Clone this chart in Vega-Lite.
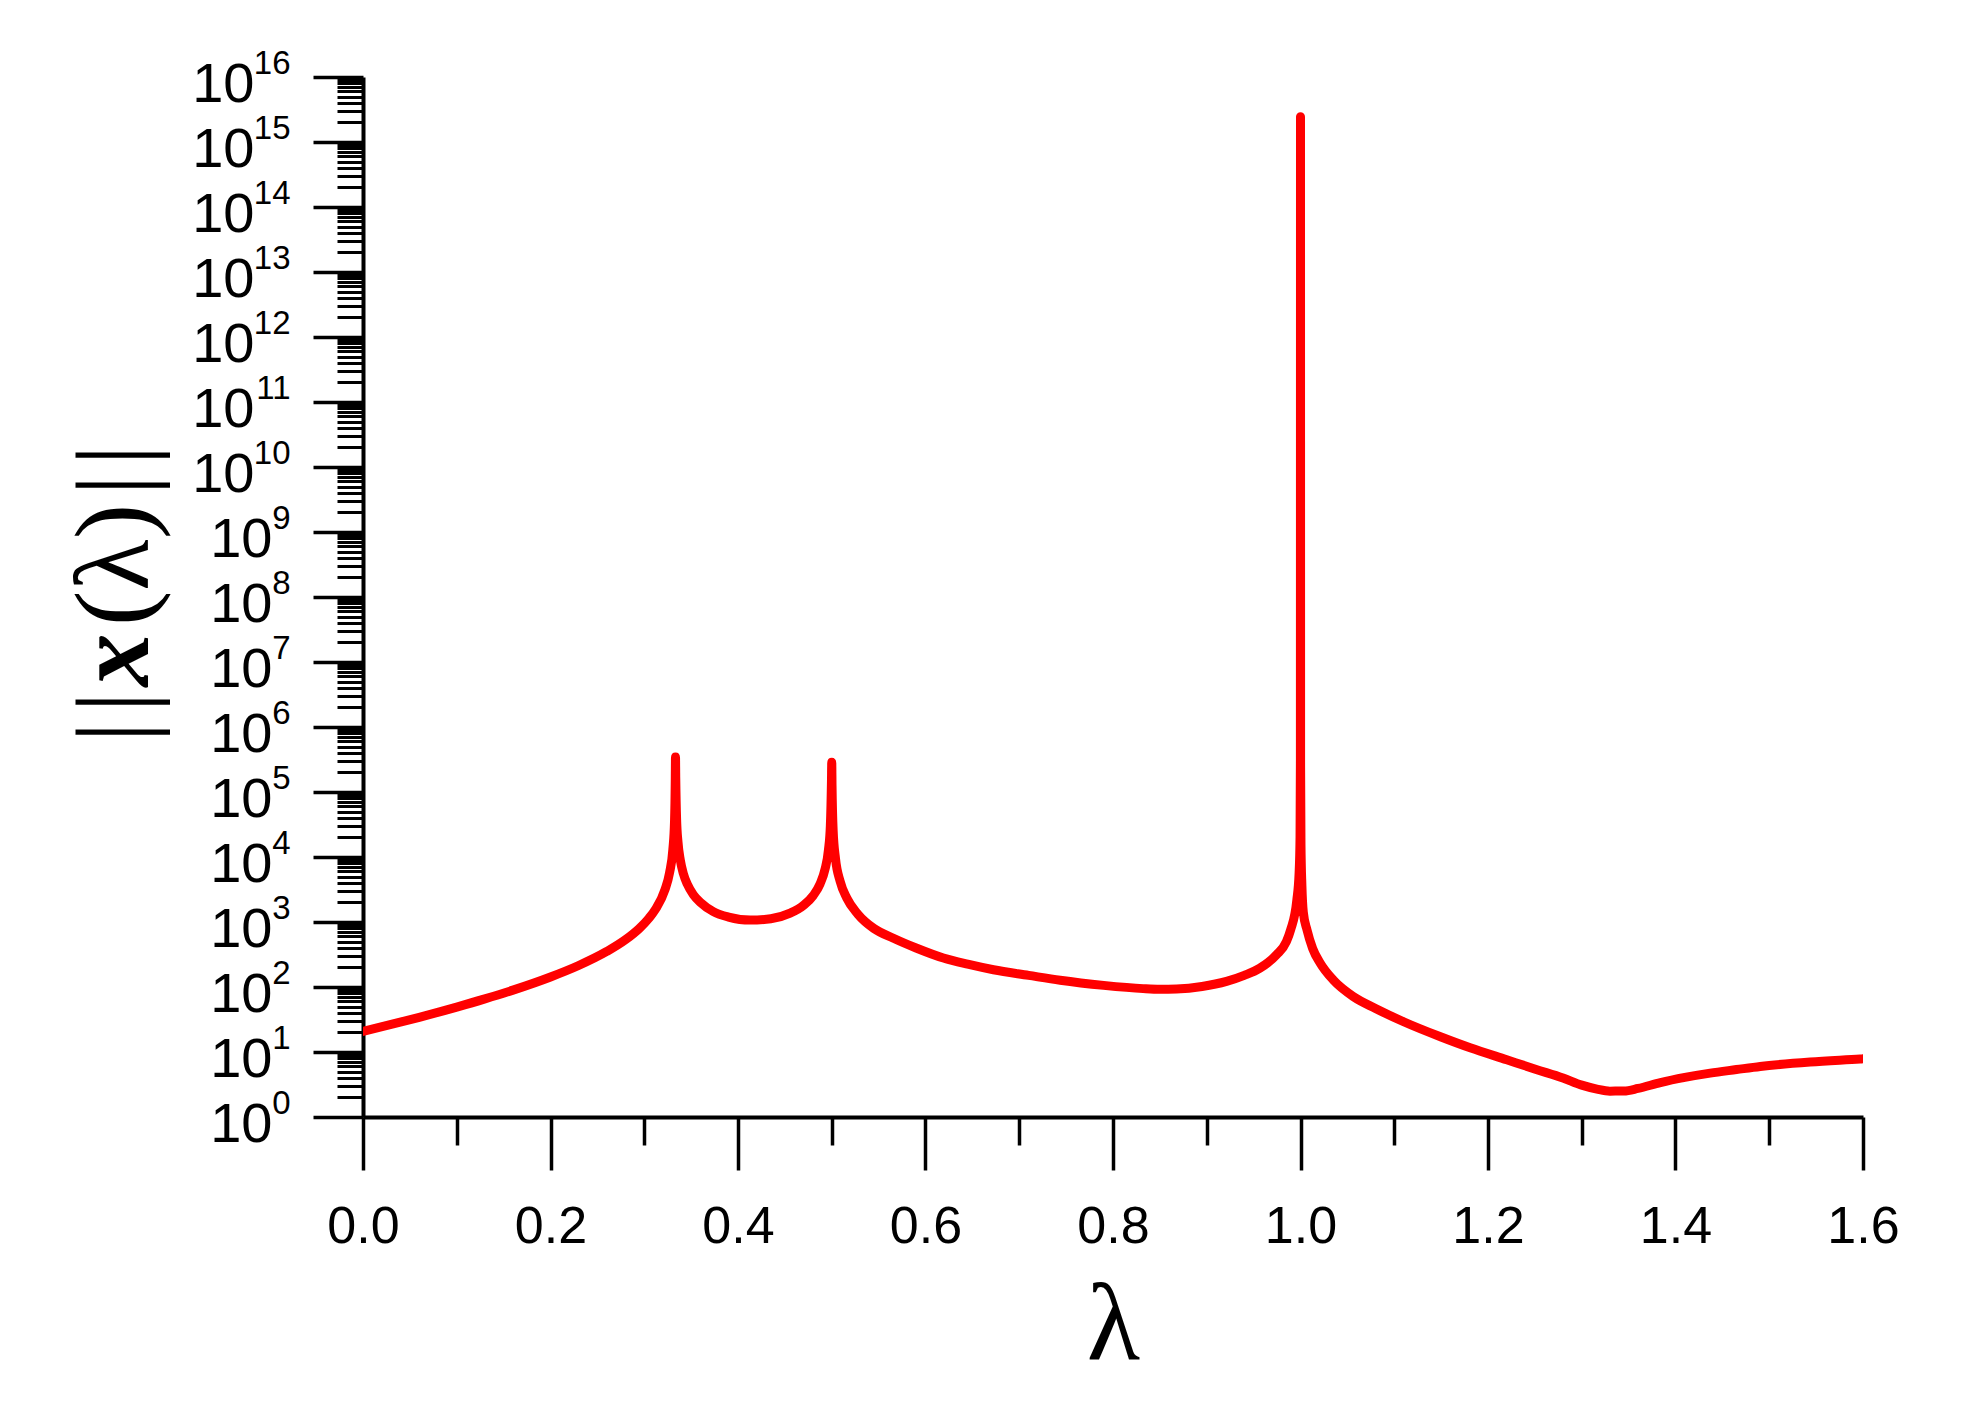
{
  "$schema": "https://vega.github.io/schema/vega-lite/v6.json",
  "width": 1500,
  "height": 1040,
  "autosize": {"type": "none"},
  "padding": {"left": 363, "top": 77, "right": 110, "bottom": 302},
  "background": "white",
  "config": {
    "view": {"stroke": null},
    "axis": {"grid": false, "domainColor": "black", "tickColor": "black", "labelColor": "black", "labelFont": "Liberation Sans", "labelOverlap": false, "labelFlush": false, "labelBound": false}
  },
  "datasets": {
    "curve": [
      {"lambda": 0, "norm": 20.7}, {"lambda": 0.03, "norm": 26.5}, {"lambda": 0.06, "norm": 34.2}, {"lambda": 0.1, "norm": 49.1},
      {"lambda": 0.13, "norm": 65.6}, {"lambda": 0.16, "norm": 89.5}, {"lambda": 0.2, "norm": 142.6}, {"lambda": 0.23, "norm": 214},
      {"lambda": 0.26, "norm": 352}, {"lambda": 0.28, "norm": 535}, {"lambda": 0.295, "norm": 804}, {"lambda": 0.305, "norm": 1143},
      {"lambda": 0.312, "norm": 1570}, {"lambda": 0.322, "norm": 3112}, {"lambda": 0.327, "norm": 5715}, {"lambda": 0.3305, "norm": 13000},
      {"lambda": 0.3323, "norm": 35700}, {"lambda": 0.3331, "norm": 160000}, {"lambda": 0.33333, "norm": 347000}, {"lambda": 0.3336, "norm": 165000},
      {"lambda": 0.3345, "norm": 38300}, {"lambda": 0.336, "norm": 16900}, {"lambda": 0.3385, "norm": 8900}, {"lambda": 0.3418, "norm": 5500},
      {"lambda": 0.346, "norm": 3800}, {"lambda": 0.3524, "norm": 2630}, {"lambda": 0.36, "norm": 1995}, {"lambda": 0.3737, "norm": 1445},
      {"lambda": 0.39, "norm": 1191}, {"lambda": 0.413, "norm": 1069}, {"lambda": 0.435, "norm": 1122}, {"lambda": 0.4556, "norm": 1368},
      {"lambda": 0.47, "norm": 1807}, {"lambda": 0.4804, "norm": 2570}, {"lambda": 0.4875, "norm": 3846}, {"lambda": 0.4928, "norm": 6460},
      {"lambda": 0.4965, "norm": 12900}, {"lambda": 0.4985, "norm": 30000}, {"lambda": 0.4997, "norm": 150000}, {"lambda": 0.5, "norm": 288000},
      {"lambda": 0.5003, "norm": 127000}, {"lambda": 0.5015, "norm": 25300}, {"lambda": 0.504, "norm": 9460}, {"lambda": 0.5089, "norm": 4250},
      {"lambda": 0.516, "norm": 2340}, {"lambda": 0.528, "norm": 1315}, {"lambda": 0.545, "norm": 794}, {"lambda": 0.5658, "norm": 562},
      {"lambda": 0.59, "norm": 398}, {"lambda": 0.6191, "norm": 279}, {"lambda": 0.645, "norm": 224}, {"lambda": 0.6725, "norm": 184},
      {"lambda": 0.71, "norm": 151}, {"lambda": 0.7436, "norm": 127}, {"lambda": 0.79, "norm": 106}, {"lambda": 0.8322, "norm": 94.4},
      {"lambda": 0.85, "norm": 92.3}, {"lambda": 0.8678, "norm": 93.3}, {"lambda": 0.895, "norm": 102}, {"lambda": 0.9211, "norm": 122},
      {"lambda": 0.94, "norm": 151}, {"lambda": 0.9567, "norm": 195}, {"lambda": 0.9744, "norm": 313}, {"lambda": 0.985, "norm": 501},
      {"lambda": 0.9895, "norm": 759}, {"lambda": 0.9961, "norm": 2190}, {"lambda": 0.9985, "norm": 5620}, {"lambda": 0.9995, "norm": 20000},
      {"lambda": 0.9999, "norm": 316000}, {"lambda": 1.0, "norm": 2.45e15}, {"lambda": 1.0001, "norm": 251000}, {"lambda": 1.0005, "norm": 15800},
      {"lambda": 1.0015, "norm": 3600}, {"lambda": 1.003, "norm": 1410}, {"lambda": 1.0069, "norm": 759}, {"lambda": 1.013, "norm": 390},
      {"lambda": 1.0211, "norm": 232}, {"lambda": 1.035, "norm": 128}, {"lambda": 1.0566, "norm": 70.8}, {"lambda": 1.08, "norm": 46.8},
      {"lambda": 1.11, "norm": 29.2}, {"lambda": 1.15, "norm": 17.0}, {"lambda": 1.181, "norm": 11.6}, {"lambda": 1.22, "norm": 7.59},
      {"lambda": 1.2522, "norm": 5.35}, {"lambda": 1.28, "norm": 3.98}, {"lambda": 1.3, "norm": 3.09}, {"lambda": 1.3162, "norm": 2.69},
      {"lambda": 1.33, "norm": 2.5}, {"lambda": 1.345, "norm": 2.51}, {"lambda": 1.36, "norm": 2.75}, {"lambda": 1.3839, "norm": 3.39},
      {"lambda": 1.41, "norm": 4.07}, {"lambda": 1.437, "norm": 4.74}, {"lambda": 1.465, "norm": 5.37}, {"lambda": 1.4904, "norm": 6.0},
      {"lambda": 1.5437, "norm": 7.02}, {"lambda": 1.597, "norm": 7.8}, {"lambda": 1.6, "norm": 7.85}
    ]
  },
  "resolve": {"axis": {"x": "independent", "y": "independent"}},
  "layer": [
    {
      "data": {"name": "curve"},
      "mark": {"type": "line", "color": "#ff0000", "strokeWidth": 9, "strokeCap": "round", "strokeJoin": "round", "interpolate": "monotone", "clip": true},
      "encoding": {
        "x": {
          "field": "lambda", "type": "quantitative",
          "scale": {"domain": [0, 1.6], "nice": false, "zero": false},
          "axis": {"orient": "bottom", "values": [0, 0.2, 0.4, 0.6, 0.8, 1.0, 1.2, 1.4, 1.6], "format": ".1f",
            "tickSize": 53, "tickWidth": 3.5, "domainWidth": 4, "labelFontSize": 52, "labelPadding": 31,
            "title": "λ", "titleFont": "Liberation Serif", "titleFontSize": 110, "titleFontWeight": "normal", "titleColor": "black", "titlePadding": 20}
        },
        "y": {
          "field": "norm", "type": "quantitative",
          "scale": {"type": "log", "domain": [1, 1e16], "nice": false},
          "axis": {"orient": "left", "values": [1e0, 1e1, 1e2, 1e3, 1e4, 1e5, 1e6, 1e7, 1e8, 1e9, 1e10, 1e11, 1e12, 1e13, 1e14, 1e15, 1e16],
            "tickSize": 50, "tickWidth": 3.5, "domainWidth": 4,
            "labelExpr": "datum.value < 1e10 ? '10' : ''", "labelFontSize": 56, "labelAlign": "right", "labelBaseline": "middle",
            "labelPadding": 41, "labelOffset": 7, "title": null}
        }
      }
    },
    {
      "data": {"values": [{}]},
      "mark": {"type": "text", "text": "|", "font": "Liberation Serif", "fontSize": 104, "angle": 270, "align": "center", "baseline": "alphabetic", "dx": -135, "dy": -215, "color": "black"},
      "encoding": {
        "x": {"datum": 0, "type": "quantitative",
          "axis": {"orient": "bottom", "values": [0.1, 0.3, 0.5, 0.7, 0.9, 1.1, 1.3, 1.5], "tickSize": 28, "tickWidth": 3.5, "labels": false, "domain": false, "title": null}},
        "y": {"datum": 1e8, "type": "quantitative",
          "axis": {"orient": "left", "values": [
            2e0, 3e0, 4e0, 5e0, 6e0, 7e0, 8e0, 9e0, 2e1, 3e1, 4e1, 5e1, 6e1, 7e1, 8e1, 9e1,
            2e2, 3e2, 4e2, 5e2, 6e2, 7e2, 8e2, 9e2, 2e3, 3e3, 4e3, 5e3, 6e3, 7e3, 8e3, 9e3,
            2e4, 3e4, 4e4, 5e4, 6e4, 7e4, 8e4, 9e4, 2e5, 3e5, 4e5, 5e5, 6e5, 7e5, 8e5, 9e5,
            2e6, 3e6, 4e6, 5e6, 6e6, 7e6, 8e6, 9e6, 2e7, 3e7, 4e7, 5e7, 6e7, 7e7, 8e7, 9e7,
            2e8, 3e8, 4e8, 5e8, 6e8, 7e8, 8e8, 9e8, 2e9, 3e9, 4e9, 5e9, 6e9, 7e9, 8e9, 9e9,
            2e10, 3e10, 4e10, 5e10, 6e10, 7e10, 8e10, 9e10, 2e11, 3e11, 4e11, 5e11, 6e11, 7e11, 8e11, 9e11,
            2e12, 3e12, 4e12, 5e12, 6e12, 7e12, 8e12, 9e12, 2e13, 3e13, 4e13, 5e13, 6e13, 7e13, 8e13, 9e13,
            2e14, 3e14, 4e14, 5e14, 6e14, 7e14, 8e14, 9e14, 2e15, 3e15, 4e15, 5e15, 6e15, 7e15, 8e15, 9e15],
            "tickSize": 26, "tickWidth": 3, "labels": false, "domain": false, "title": null}}
      }
    },
    {
      "data": {"values": [{}]},
      "mark": {"type": "text", "text": "|", "font": "Liberation Serif", "fontSize": 104, "angle": 270, "align": "center", "baseline": "alphabetic", "dx": -105, "dy": -215, "color": "black"},
      "encoding": {
        "x": {"datum": 0, "type": "quantitative", "axis": null},
        "y": {"datum": 1e8, "type": "quantitative",
          "axis": {"orient": "left", "values": [1e10, 1e11, 1e12, 1e13, 1e14, 1e15, 1e16],
            "tickSize": 50, "tickOpacity": 0, "domain": false,
            "labelExpr": "'10'", "labelFontSize": 56, "labelAlign": "right", "labelBaseline": "middle",
            "labelPadding": 59, "labelOffset": 7, "title": null}}
      }
    },
    {
      "data": {"values": [{}]},
      "mark": {"type": "text", "text": "x", "font": "Liberation Serif", "fontStyle": "italic", "fontWeight": "bold", "fontSize": 106, "angle": 270, "align": "center", "baseline": "alphabetic", "dx": -63, "dy": -215, "color": "black"},
      "encoding": {
        "x": {"datum": 0, "type": "quantitative", "axis": null},
        "y": {"datum": 1e8, "type": "quantitative",
          "axis": {"orient": "left", "values": [1e0, 1e1, 1e2, 1e3, 1e4, 1e5, 1e6, 1e7, 1e8, 1e9, 1e10, 1e11, 1e12, 1e13, 1e14, 1e15, 1e16],
            "tickSize": 50, "tickOpacity": 0, "domain": false,
            "labelExpr": "format(round(log(datum.value) / LN10), 'd')", "labelFontSize": 33, "labelAlign": "right", "labelBaseline": "middle",
            "labelPadding": 23, "labelOffset": -14, "title": null}}
      }
    },
    {
      "data": {"values": [{}]},
      "mark": {"type": "text", "text": "(λ)", "font": "Liberation Serif", "fontSize": 106, "angle": 270, "align": "center", "baseline": "alphabetic", "dx": 32, "dy": -215, "color": "black"},
      "encoding": {
        "x": {"datum": 0, "type": "quantitative", "axis": null},
        "y": {"datum": 1e8, "type": "quantitative", "axis": null}
      }
    },
    {
      "data": {"values": [{}]},
      "mark": {"type": "text", "text": "|", "font": "Liberation Serif", "fontSize": 104, "angle": 270, "align": "center", "baseline": "alphabetic", "dx": 112, "dy": -215, "color": "black"},
      "encoding": {
        "x": {"datum": 0, "type": "quantitative", "axis": null},
        "y": {"datum": 1e8, "type": "quantitative", "axis": null}
      }
    },
    {
      "data": {"values": [{}]},
      "mark": {"type": "text", "text": "|", "font": "Liberation Serif", "fontSize": 104, "angle": 270, "align": "center", "baseline": "alphabetic", "dx": 142, "dy": -215, "color": "black"},
      "encoding": {
        "x": {"datum": 0, "type": "quantitative", "axis": null},
        "y": {"datum": 1e8, "type": "quantitative", "axis": null}
      }
    }
  ]
}
